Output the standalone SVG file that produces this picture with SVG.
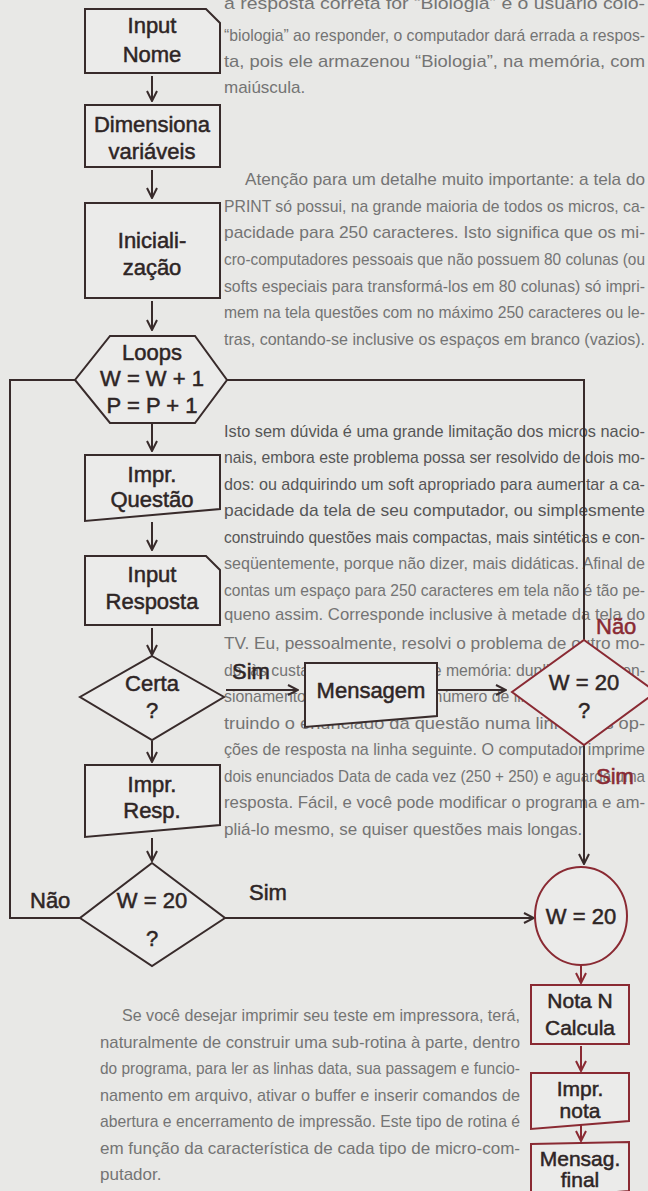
<svg xmlns="http://www.w3.org/2000/svg" width="648" height="1191" viewBox="0 0 648 1191">
  <defs>
    <style>
      .pg{font-family:"Liberation Sans",Arial,sans-serif;font-size:17px;fill:#747474}
      .pg.dk{fill:#565656}
      .lbl{font-family:"Liberation Sans",Arial,sans-serif;font-size:22px;fill:#2e2525;stroke:#2e2525;stroke-width:0.5;text-anchor:middle}
      .lbl.sm{font-size:21px}
      .tag{font-family:"Liberation Sans",Arial,sans-serif;font-size:22px;fill:#2e2525;stroke:#2e2525;stroke-width:0.5}
      .tag.red{fill:#8a2a33;stroke:#8a2a33}
      .shp{fill:#ebebea;stroke:#382b2b;stroke-width:2;stroke-linejoin:miter}
      .shp.red{stroke:#8a2a33}
      .ln{fill:none;stroke:#382b2b;stroke-width:2}
      .ln.red{stroke:#8a2a33}
      .arr{marker-end:url(#ah)}
      .arr.red{marker-end:url(#ahr)}
    </style>
    <marker id="ah" viewBox="0 0 12 12" refX="11" refY="6" markerWidth="12" markerHeight="12" markerUnits="userSpaceOnUse" orient="auto">
      <path d="M1,1 L11,6 L1,11" fill="none" stroke="#382b2b" stroke-width="2"/>
    </marker>
    <marker id="ahr" viewBox="0 0 12 12" refX="11" refY="6" markerWidth="12" markerHeight="12" markerUnits="userSpaceOnUse" orient="auto">
      <path d="M1,1 L11,6 L1,11" fill="none" stroke="#8a2a33" stroke-width="2"/>
    </marker>
  </defs>

  <!-- page -->
  <rect x="0" y="0" width="648" height="1191" fill="#e8e8e6"/>

  <!-- article text running beside the flowchart -->
  <g id="article">
    <text class="pg" x="224" y="9" textLength="421" lengthAdjust="spacingAndGlyphs">a resposta correta for “Biologia” e o usuário colo-</text>
    <text class="pg" x="224" y="41" textLength="421" lengthAdjust="spacingAndGlyphs">“biologia” ao responder, o computador dará errada a respos-</text>
    <text class="pg" x="224" y="67" textLength="421" lengthAdjust="spacingAndGlyphs">ta, pois ele armazenou “Biologia”, na memória, com</text>
    <text class="pg" x="224" y="93">maiúscula.</text>

    <text class="pg" x="245" y="185" textLength="400" lengthAdjust="spacingAndGlyphs">Atenção para um detalhe muito importante: a tela do</text>
    <text class="pg" x="224" y="212" textLength="421" lengthAdjust="spacingAndGlyphs">PRINT só possui, na grande maioria de todos os micros, ca-</text>
    <text class="pg" x="224" y="238" textLength="421" lengthAdjust="spacingAndGlyphs">pacidade para 250 caracteres. Isto significa que os mi-</text>
    <text class="pg" x="224" y="265" textLength="421" lengthAdjust="spacingAndGlyphs">cro-computadores pessoais que não possuem 80 colunas (ou</text>
    <text class="pg" x="224" y="292" textLength="421" lengthAdjust="spacingAndGlyphs">softs especiais para transformá-los em 80 colunas) só impri-</text>
    <text class="pg" x="224" y="318" textLength="421" lengthAdjust="spacingAndGlyphs">mem na tela questões com no máximo 250 caracteres ou le-</text>
    <text class="pg" x="224" y="345" textLength="421" lengthAdjust="spacingAndGlyphs">tras, contando-se inclusive os espaços em branco (vazios).</text>

    <text class="pg dk" x="224" y="437" textLength="421" lengthAdjust="spacingAndGlyphs">Isto sem dúvida é uma grande limitação dos micros nacio-</text>
    <text class="pg dk" x="224" y="463" textLength="421" lengthAdjust="spacingAndGlyphs">nais, embora este problema possa ser resolvido de dois mo-</text>
    <text class="pg dk" x="224" y="490" textLength="421" lengthAdjust="spacingAndGlyphs">dos: ou adquirindo um soft apropriado para aumentar a ca-</text>
    <text class="pg dk" x="224" y="516" textLength="421" lengthAdjust="spacingAndGlyphs">pacidade da tela de seu computador, ou simplesmente</text>
    <text class="pg dk" x="224" y="543" textLength="421" lengthAdjust="spacingAndGlyphs">construindo questões mais compactas, mais sintéticas e con-</text>
    <text class="pg" x="224" y="569" textLength="421" lengthAdjust="spacingAndGlyphs">seqüentemente, porque não dizer, mais didáticas. Afinal de</text>
    <text class="pg" x="224" y="596" textLength="421" lengthAdjust="spacingAndGlyphs">contas um espaço para 250 caracteres em tela não é tão pe-</text>
    <text class="pg" x="224" y="620" textLength="421" lengthAdjust="spacingAndGlyphs">queno assim. Corresponde inclusive à metade da tela do</text>
    <text class="pg" x="224" y="649" textLength="421" lengthAdjust="spacingAndGlyphs">TV. Eu, pessoalmente, resolvi o problema de outro mo-</text>
    <text class="pg" x="224" y="676" textLength="421" lengthAdjust="spacingAndGlyphs">do, às custas de mais gasto de memória: dupliquei o dimen-</text>
    <text class="pg" x="224" y="702" textLength="421" lengthAdjust="spacingAndGlyphs">sionamento das variáveis e o número de linhas. Para, cons-</text>
    <text class="pg" x="224" y="729" textLength="421" lengthAdjust="spacingAndGlyphs">truindo o enunciado da questão numa linha e as op-</text>
    <text class="pg" x="224" y="755" textLength="421" lengthAdjust="spacingAndGlyphs">ções de resposta na linha seguinte. O computador imprime</text>
    <text class="pg" x="224" y="782" textLength="421" lengthAdjust="spacingAndGlyphs">dois enunciados Data de cada vez (250 + 250) e aguarda uma</text>
    <text class="pg" x="224" y="808" textLength="421" lengthAdjust="spacingAndGlyphs">resposta. Fácil, e você pode modificar o programa e am-</text>
    <text class="pg" x="224" y="835">pliá-lo mesmo, se quiser questões mais longas.</text>

    <text class="pg" x="122" y="1021" textLength="398" lengthAdjust="spacingAndGlyphs">Se você desejar imprimir seu teste em impressora, terá,</text>
    <text class="pg" x="100" y="1048" textLength="420" lengthAdjust="spacingAndGlyphs">naturalmente de construir uma sub-rotina à parte, dentro</text>
    <text class="pg" x="100" y="1074" textLength="420" lengthAdjust="spacingAndGlyphs">do programa, para ler as linhas data, sua passagem e funcio-</text>
    <text class="pg" x="100" y="1101" textLength="420" lengthAdjust="spacingAndGlyphs">namento em arquivo, ativar o buffer e inserir comandos de</text>
    <text class="pg" x="100" y="1127" textLength="420" lengthAdjust="spacingAndGlyphs">abertura e encerramento de impressão. Este tipo de rotina é</text>
    <text class="pg" x="100" y="1154" textLength="420" lengthAdjust="spacingAndGlyphs">em função da característica de cada tipo de micro-com-</text>
    <text class="pg" x="100" y="1180">putador.</text>
  </g>

  <!-- connectors -->
  <g id="connectors">
    <path class="ln arr" d="M152,76 V101"/>
    <path class="ln arr" d="M152,170 V198"/>
    <path class="ln arr" d="M152,301 V330"/>
    <path class="ln arr" d="M152,424 V451"/>
    <path class="ln arr" d="M152,522 V550"/>
    <path class="ln arr" d="M152,628 V655"/>
    <path class="ln arr" d="M226,690 H298"/>
    <path class="ln arr" d="M437,690 H506"/>
    <path class="ln arr" d="M152,741 V762"/>
    <path class="ln arr" d="M152,838 V861"/>
    <!-- loop back when the last question is not reached -->
    <path class="ln" d="M80,918 H10 V380 H75"/>
    <path class="ln" d="M227,380 H584 V640"/>
    <path class="ln arr" d="M584,745 V864"/>
    <path class="ln arr" d="M225,918 H534"/>
    <path class="ln red arr red" d="M581,966 V983"/>
    <path class="ln red arr red" d="M581,1046 V1071"/>
    <path class="ln red arr red" d="M581,1124 V1141"/>
    <text class="tag" x="30" y="908">Não</text>
    <text class="tag" x="249" y="900">Sim</text>
    <text class="tag" x="232" y="679">Sim</text>
    <text class="tag red" x="596" y="634">Não</text>
    <text class="tag red" x="596" y="784">Sim</text>
  </g>

  <!-- nodes -->
  <g id="input-nome">
    <path class="shp" d="M85,9 H206 L220,23 V73 H85 Z"/>
    <text class="lbl" x="152" y="33">Input</text>
    <text class="lbl" x="152" y="62">Nome</text>
  </g>
  <g id="dimensiona">
    <rect class="shp" x="85" y="105" width="135" height="62"/>
    <text class="lbl" x="152" y="132">Dimensiona</text>
    <text class="lbl" x="152" y="159">variáveis</text>
  </g>
  <g id="inicializacao">
    <rect class="shp" x="85" y="203" width="135" height="95"/>
    <text class="lbl" x="152" y="248">Iniciali-</text>
    <text class="lbl" x="152" y="275">zação</text>
  </g>
  <g id="loops">
    <path class="shp" d="M110,336 H195 L227,380 L195,423 H110 L75,380 Z"/>
    <text class="lbl" x="152" y="360">Loops</text>
    <text class="lbl" x="152" y="386">W = W + 1</text>
    <text class="lbl" x="152" y="413">P = P + 1</text>
  </g>
  <g id="impr-questao">
    <path class="shp" d="M85,455 H220 V509 L85,521 Z"/>
    <text class="lbl" x="152" y="482">Impr.</text>
    <text class="lbl" x="152" y="507">Questão</text>
  </g>
  <g id="input-resposta">
    <path class="shp" d="M85,556 H206 L220,570 V625 H85 Z"/>
    <text class="lbl" x="152" y="582">Input</text>
    <text class="lbl" x="152" y="609">Resposta</text>
  </g>
  <g id="certa">
    <path class="shp" d="M152,656 L224,697 L152,740 L80,697 Z"/>
    <text class="lbl" x="152" y="691">Certa</text>
    <text class="lbl" x="152" y="718">?</text>
  </g>
  <g id="mensagem">
    <path class="shp" d="M305,663 H437 V716 L305,727 Z"/>
    <text class="lbl" x="371" y="698">Mensagem</text>
  </g>
  <g id="w20-direita">
    <path class="shp red" d="M584,640 L656,692 L584,745 L512,692 Z"/>
    <text class="lbl" x="584" y="690">W = 20</text>
    <text class="lbl" x="584" y="718">?</text>
  </g>
  <g id="impr-resp">
    <path class="shp" d="M85,765 H220 V825 L85,837 Z"/>
    <text class="lbl" x="152" y="792">Impr.</text>
    <text class="lbl" x="152" y="818">Resp.</text>
  </g>
  <g id="w20-esquerda">
    <path class="shp" d="M152,863 L225,918 L152,966 L80,918 Z"/>
    <text class="lbl" x="152" y="908">W = 20</text>
    <text class="lbl" x="152" y="946">?</text>
  </g>
  <g id="w20-circulo">
    <ellipse class="shp red" cx="581" cy="916" rx="46" ry="49"/>
    <text class="lbl" x="581" y="924">W = 20</text>
  </g>
  <g id="nota-calcula">
    <rect class="shp red" x="531" y="985" width="98" height="59"/>
    <text class="lbl sm" x="580" y="1008">Nota N</text>
    <text class="lbl sm" x="580" y="1035">Calcula</text>
  </g>
  <g id="impr-nota">
    <path class="shp red" d="M531,1073 H629 V1121 L531,1129 Z"/>
    <text class="lbl sm" x="580" y="1096">Impr.</text>
    <text class="lbl sm" x="580" y="1118">nota</text>
  </g>
  <g id="mensag-final">
    <path class="shp red" d="M531,1144 L629,1142 V1191 L531,1199 Z"/>
    <text class="lbl sm" x="580" y="1166">Mensag.</text>
    <text class="lbl sm" x="580" y="1187">final</text>
  </g>
</svg>
